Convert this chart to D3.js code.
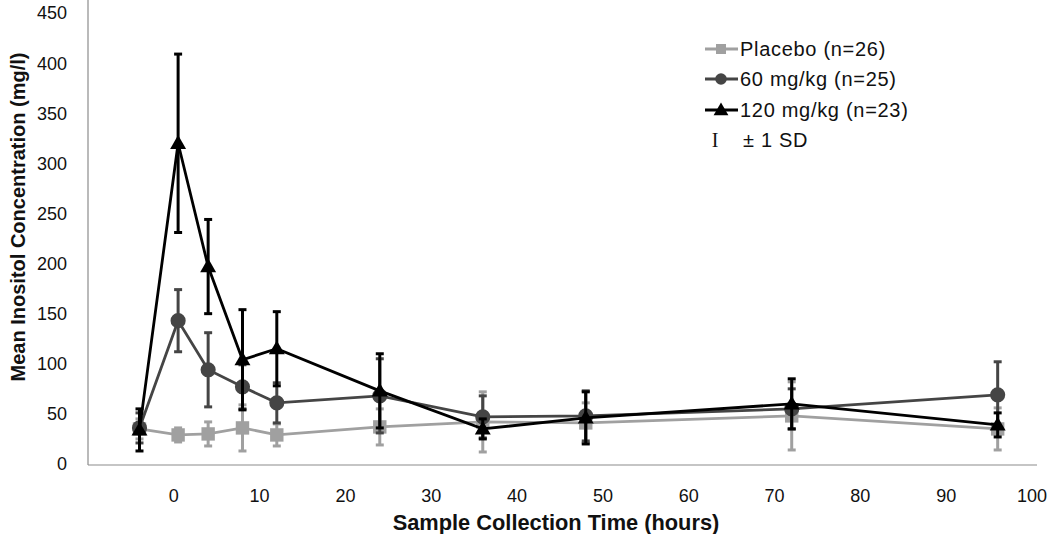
<!DOCTYPE html>
<html><head><meta charset="utf-8">
<script src="https://cdn.jsdelivr.net/npm/d3@7"></script>
<style>body{margin:0;background:#fff}svg{display:block}</style>
</head><body><svg id="c" width="1050" height="534"></svg>
<script>
const times = [-4, 0.5, 4, 8, 12, 24, 36, 48, 72, 96];
const placeboMean = [35, 29, 30, 36, 29, 37, 42, 41, 48, 35];
const placeboSD   = [10, 7, 12, 23, 11, 18, 30, 20, 34, 21];
const dose60Mean  = [36, 143, 94, 77, 61, 68, 47, 48, 55, 69];
const dose60SD    = [15, 31, 37, 22, 20, 37, 21, 25, 20, 33];
const dose120Mean = [34, 320, 197, 104, 115, 73, 35, 46, 60, 39];
const dose120SD   = [21, 89, 47, 50, 37, 37, 10, 26, 25, 12];
const xTicks = [0,10,20,30,40,50,60,70,80,90,100];
const yTicks = [0,50,100,150,200,250,300,350,400,450];
const seriesNames = ["Placebo (n=26)", "60 mg/kg (n=25)", "120 mg/kg (n=23)"];
const seriesColors = ["#a0a0a0", "#454545", "#000000"];
const seriesShapes = [d3.symbolSquare, d3.symbolCircle, d3.symbolTriangle];
const seriesSizes = [180, 180, 110];

const series = [
  {name: seriesNames[0], mean: placeboMean, sd: placeboSD},
  {name: seriesNames[1], mean: dose60Mean, sd: dose60SD},
  {name: seriesNames[2], mean: dose120Mean, sd: dose120SD}
];

const svg = d3.select("#c");
const x = d3.scaleLinear().domain([-10, 100]).range([88, 1032]);
const y = d3.scaleLinear().domain([0, 450]).range([464, 13]);

svg.append("line").attr("x1",88).attr("x2",88).attr("y1",0).attr("y2",465).attr("stroke","#8c8c8c").attr("stroke-width",1.2);
svg.append("line").attr("x1",88).attr("x2",1037).attr("y1",465).attr("y2",465).attr("stroke","#8c8c8c").attr("stroke-width",1.2);

svg.append("g").selectAll("text").data(yTicks).join("text")
  .attr("x", 67).attr("y", d => y(d)).attr("dy","0.36em")
  .attr("text-anchor","end").attr("font-family","'Liberation Sans', Arial, sans-serif")
  .attr("font-size",18).attr("fill","#111").text(d => d);

svg.append("g").selectAll("text").data(xTicks).join("text")
  .attr("x", d => x(d)).attr("y", 496).attr("dy","0.36em")
  .attr("text-anchor","middle").attr("font-family","'Liberation Sans Narrow', 'Arial Narrow', sans-serif")
  .attr("font-size",18).attr("fill","#111").text(d => d);

svg.append("text").attr("x", 556).attr("y", 522).attr("dy","0.36em").attr("text-anchor","middle")
  .attr("font-family","'Liberation Sans', Arial, sans-serif").attr("font-weight","bold").attr("font-size",21.8)
  .attr("fill","#111").text("Sample Collection Time (hours)");
svg.append("text").attr("transform","translate(18,217) rotate(-90)").attr("dy","0.36em").attr("text-anchor","middle")
  .attr("font-family","'Liberation Sans', Arial, sans-serif").attr("font-weight","bold").attr("font-size",20)
  .attr("fill","#111").text("Mean Inositol Concentration (mg/l)");

const line = d3.line().x(d => x(d.t)).y(d => y(d.m));

series.forEach((s, i) => {
  const pts = times.map((t, k) => ({t, m: s.mean[k], sd: s.sd[k]}));
  const g = svg.append("g");
  const col = seriesColors[i];
  const eb = g.append("g").attr("stroke", col).attr("stroke-width", 3);
  eb.selectAll("line.v").data(pts).join("line").attr("class","v")
    .attr("x1", d => x(d.t)).attr("x2", d => x(d.t))
    .attr("y1", d => y(d.m + d.sd)).attr("y2", d => y(Math.max(0, d.m - d.sd)));
  eb.selectAll("line.t").data(pts).join("line").attr("class","t")
    .attr("x1", d => x(d.t) - 4).attr("x2", d => x(d.t) + 4)
    .attr("y1", d => y(d.m + d.sd)).attr("y2", d => y(d.m + d.sd));
  eb.selectAll("line.b").data(pts).join("line").attr("class","b")
    .attr("x1", d => x(d.t) - 4).attr("x2", d => x(d.t) + 4)
    .attr("y1", d => y(Math.max(0, d.m - d.sd))).attr("y2", d => y(Math.max(0, d.m - d.sd)));
  g.append("path").datum(pts).attr("d", line).attr("fill","none").attr("stroke", col).attr("stroke-width", 2.8);
  g.selectAll("path.m").data(pts).join("path").attr("class","m")
    .attr("transform", d => `translate(${x(d.t)},${y(d.m) + (i===2?1:0)})`)
    .attr("d", d3.symbol().type(seriesShapes[i]).size(seriesSizes[i])).attr("fill", col);
});

const lg = svg.append("g");
const ly = [49, 79, 110];
const legendFont = "'Liberation Sans', Arial, sans-serif";
series.forEach((s, i) => {
  lg.append("line").attr("x1",705).attr("x2",738).attr("y1",ly[i]).attr("y2",ly[i]).attr("stroke",seriesColors[i]).attr("stroke-width",2.8);
  lg.append("path").attr("transform",`translate(721,${ly[i] + (i===2?1:0)})`)
    .attr("d", d3.symbol().type(seriesShapes[i]).size(i===0?100:i===1?105:95)).attr("fill", seriesColors[i]);
  lg.append("text").attr("x",740).attr("y",ly[i]).attr("dy","0.36em")
    .attr("font-family",legendFont).attr("font-size",20).attr("letter-spacing",0.7).attr("fill","#111").text(s.name);
});
lg.append("text").attr("x",715).attr("y",140).attr("dy","0.36em").attr("text-anchor","middle")
  .attr("font-family","'Liberation Serif', serif").attr("font-size",20).attr("fill","#111").text("I");
lg.append("text").attr("x",743).attr("y",140).attr("dy","0.36em")
  .attr("font-family",legendFont).attr("font-size",20).attr("letter-spacing",0.7).attr("fill","#111").text("± 1 SD");
</script></body></html>
